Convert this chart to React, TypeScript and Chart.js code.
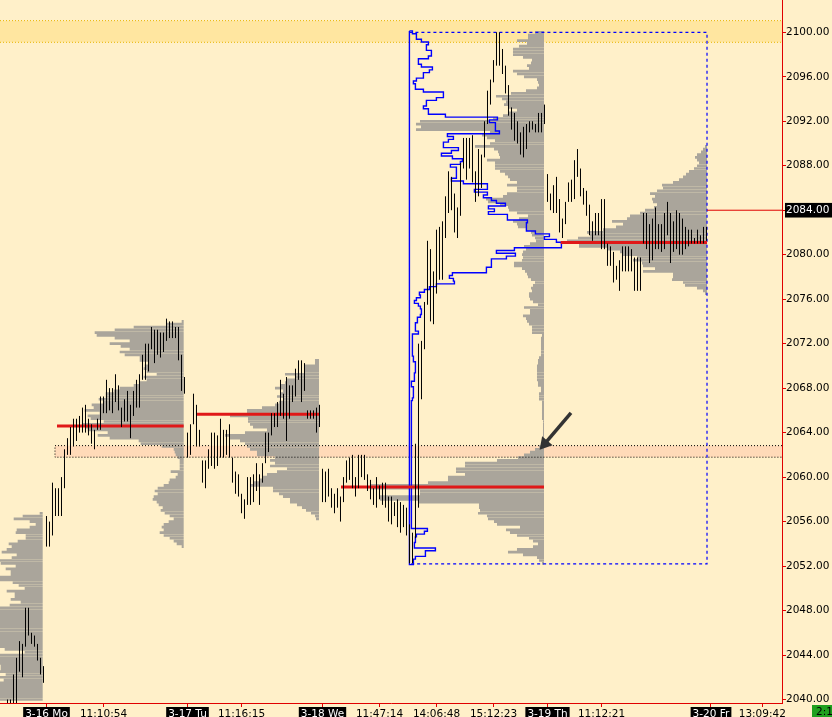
import React, { useEffect, useRef } from 'react';
import { Chart, registerables, LineController } from 'chart.js';

// line controller that does not ask the layout for extra edge padding
class FlushLineController extends LineController {
  getMaxOverflow() {
    return 0;
  }
}
(FlushLineController as any).id = 'flushLine';
(FlushLineController as any).defaults = (LineController as any).defaults;
(FlushLineController as any).overrides = (LineController as any).overrides;

Chart.register(...registerables, FlushLineController);

// ---------------- data ----------------
// price bars: one bar per slot, starting at FIRST_SLOT
const FIRST_SLOT = 2;
const BAR_HIGHS = [
  2040.0, 2040.0, 2042.25, 2043.75, 2045.25, 2045.0, 2048.25, 2048.25, 2046.0, 2045.75,
  2045.0, 2043.75, 2043.0, 2056.5, 2056.0, 2059.5, 2059.0, 2059.0, 2060.0, 2062.5,
  2063.5, 2064.5, 2065.25, 2065.25, 2065.5, 2066.25, 2066.5, 2065.25, 2064.75, 2064.25,
  2065.25, 2067.25, 2067.25, 2068.75, 2068.0, 2068.0, 2069.25, 2068.25, 2066.25, 2067.0,
  2067.75, 2066.5, 2067.75, 2068.75, 2069.25, 2071.0, 2072.0, 2072.0, 2073.5, 2073.25,
  2073.25, 2073.0, 2073.0, 2074.25, 2074.0, 2074.0, 2073.5, 2073.5, 2071.0, 2069.0,
  2064.0, 2064.75, 2067.5, 2066.5, 2064.25, 2061.5, 2061.5, 2062.5, 2064.0, 2064.0,
  2063.75, 2065.25, 2064.25, 2064.25, 2064.75, 2061.75, 2060.5, 2060.25, 2058.5, 2058.0,
  2060.0, 2060.0, 2060.25, 2061.25, 2060.25, 2061.25, 2064.0, 2064.0, 2065.75, 2065.75,
  2066.75, 2068.75, 2067.5, 2069.0, 2068.25, 2068.25, 2069.75, 2070.5, 2070.5, 2070.25,
  2066.0, 2066.0, 2066.0, 2066.25, 2066.5, 2060.75, 2060.5, 2060.75, 2059.0, 2058.5,
  2059.0, 2058.25, 2060.0, 2061.5, 2061.75, 2062.0, 2060.0, 2062.0, 2062.0, 2062.0,
  2060.25, 2059.75, 2059.0, 2060.0, 2059.25, 2059.5, 2059.5, 2058.25, 2058.25, 2057.75,
  2058.0, 2057.75, 2057.5, 2057.25, 2055.75, 2055.0, 2063.0, 2072.0, 2072.25, 2075.75,
  2081.25, 2080.5, 2078.5, 2082.25, 2082.5, 2083.0, 2085.25, 2087.5, 2087.0, 2085.5,
  2084.25, 2088.25, 2090.5, 2090.5, 2090.5, 2090.75, 2087.5, 2089.5, 2089.0, 2092.0,
  2094.75, 2095.75, 2097.5, 2100.0, 2100.0, 2098.5, 2097.0, 2095.25, 2093.25, 2092.75,
  2092.0, 2091.0, 2091.5, 2091.75, 2092.0, 2092.0, 2091.75, 2092.75, 2092.75, 2093.5,
  2087.25, 2085.5, 2086.25, 2087.0, 2085.0, 2083.25, 2084.75, 2086.5, 2086.75, 2088.5,
  2089.5, 2087.75, 2086.0, 2085.75, 2084.5, 2083.0, 2083.75, 2083.75, 2085.0, 2085.0,
  2081.0, 2080.75, 2080.25, 2079.0, 2079.5, 2080.75, 2080.75, 2080.75, 2080.5, 2079.75,
  2079.75, 2079.75, 2083.75, 2083.75, 2082.75, 2083.25, 2084.25, 2082.75, 2082.75, 2083.75,
  2084.75, 2083.75, 2083.0, 2084.0, 2083.75, 2083.25, 2082.5, 2082.25, 2082.25, 2081.5,
  2082.25, 2081.75, 2082.5, 2082.5,
];
const BAR_LOWS = [
  2038.5, 2038.5, 2038.0, 2038.5, 2042.5, 2042.0, 2044.75, 2045.75, 2045.0, 2044.75,
  2043.5, 2042.25, 2041.5, 2053.75, 2053.75, 2054.75, 2056.5, 2056.5, 2056.5, 2059.0,
  2062.0, 2062.0, 2062.75, 2063.25, 2064.0, 2064.0, 2064.0, 2063.75, 2063.0, 2062.5,
  2064.25, 2064.25, 2065.75, 2065.75, 2066.0, 2065.75, 2066.75, 2066.0, 2064.5, 2065.0,
  2065.0, 2063.5, 2065.5, 2066.25, 2066.25, 2068.75, 2068.75, 2069.5, 2071.5, 2070.25,
  2071.0, 2070.75, 2071.25, 2072.25, 2072.5, 2072.5, 2072.5, 2070.5, 2067.75, 2067.5,
  2061.75, 2062.0, 2064.75, 2062.75, 2062.75, 2059.5, 2059.0, 2060.75, 2061.0, 2060.75,
  2061.0, 2061.75, 2061.75, 2062.0, 2061.75, 2059.5, 2058.5, 2058.25, 2056.75, 2056.25,
  2057.5, 2057.5, 2057.75, 2058.75, 2057.5, 2059.5, 2061.25, 2062.25, 2063.75, 2064.5,
  2064.5, 2065.5, 2065.25, 2063.25, 2065.25, 2066.75, 2067.25, 2068.75, 2066.75, 2067.75,
  2065.25, 2065.25, 2065.25, 2064.0, 2064.5, 2057.75, 2057.75, 2058.25, 2057.25, 2056.75,
  2057.25, 2056.0, 2057.75, 2059.5, 2059.75, 2059.0, 2058.25, 2059.0, 2060.0, 2059.75,
  2058.75, 2058.0, 2057.5, 2057.25, 2058.0, 2057.5, 2057.25, 2056.0, 2055.75, 2056.5,
  2055.5, 2055.0, 2055.5, 2054.75, 2052.25, 2052.25, 2054.5, 2057.25, 2067.0, 2071.5,
  2075.5, 2074.0, 2073.75, 2076.5, 2077.75, 2077.75, 2081.5, 2083.75, 2084.0, 2082.0,
  2081.5, 2083.5, 2087.75, 2086.75, 2087.75, 2086.5, 2084.75, 2085.25, 2086.0, 2088.75,
  2091.75, 2093.5, 2095.5, 2097.0, 2097.0, 2096.25, 2094.5, 2092.5, 2091.25, 2090.25,
  2090.0, 2089.0, 2088.75, 2089.5, 2091.0, 2091.25, 2091.0, 2091.0, 2091.0, 2091.75,
  2084.75, 2084.0, 2083.75, 2083.75, 2082.0, 2081.5, 2082.75, 2084.75, 2084.75, 2085.0,
  2087.0, 2085.25, 2084.5, 2083.5, 2081.75, 2081.25, 2081.75, 2081.75, 2080.5, 2080.5,
  2079.0, 2079.0, 2077.5, 2077.75, 2076.75, 2078.5, 2078.5, 2078.5, 2078.5, 2076.75,
  2076.75, 2076.75, 2081.0, 2080.5, 2079.25, 2079.5, 2080.5, 2080.5, 2080.25, 2080.5,
  2081.75, 2079.25, 2080.25, 2080.5, 2080.0, 2080.0, 2080.5, 2080.75, 2081.0, 2081.0,
  2081.0, 2081.0, 2081.0, 2081.25,
];

// volume profiles (volume per 0.25 price level, from the top level down)
const TICK_SIZE = 0.25;
const VOL_TO_SLOT = 1 / 3;
const PROFILE_TOPS = [2056.75, 2074.0, 2070.5, 2100.0, 2089.75];
const PROFILE_RIGHTS = [13.73, 60.73, 105.83, 180.83, 235.17];
const PROFILE_0 = [
  3, 20, 29, 13, 7, 13, 26, 27, 17, 17, 25, 34, 31, 36, 41, 26, 31, 55, 42, 27,
  37, 32, 32, 55, 55, 30, 24, 18, 36, 28, 28, 32, 22, 33, 55, 55, 55, 55, 55, 55,
  55, 55, 55, 55, 55, 55, 55, 55, 55, 38, 18, 55, 55, 55, 55, 42, 42, 55, 37, 55,
  39, 55, 55, 55, 55, 55, 55, 55,
];
const PROFILE_1 = [
  2, 17, 50, 69, 89, 87, 69, 54, 74, 63, 54, 64, 59, 44, 44, 35, 39, 40, 37, 27,
  40, 37, 44, 50, 64, 70, 78, 78, 85, 80, 92, 90, 99, 84, 96, 93, 80, 101, 98, 96,
  76, 86, 74, 45, 43, 22, 10, 9, 8, 6, 4, 4, 4, 4, 13, 6, 8, 14, 15, 20,
  26, 29, 26, 30, 31, 27, 25, 21, 23, 19, 14, 10, 15, 20, 22, 20, 24, 20, 14, 10,
  7, 2,
];
const PROFILE_2 = [
  4, 4, 14, 14, 14, 34, 24, 33, 34, 39, 44, 36, 39, 42, 36, 40, 44, 57, 72, 72,
  89, 71, 71, 69, 66, 52, 74, 94, 89, 79, 74, 72, 69, 62, 62, 44, 49, 44, 49, 32,
  42, 52, 56, 59, 66, 68, 46, 46, 40, 36, 29, 29, 22, 17, 13, 8, 4, 3,
];
const PROFILE_3 = [
  9, 16, 16, 27, 17, 25, 31, 31, 31, 21, 12, 13, 17, 15, 31, 27, 20, 7, 6, 5,
  7, 18, 33, 48, 42, 38, 40, 36, 27, 36, 41, 51, 124, 128, 123, 128, 54, 62, 57, 49,
  54, 69, 50, 46, 45, 44, 57, 49, 49, 49, 44, 39, 36, 34, 27, 37, 27, 27, 37, 41,
  58, 56, 44, 36, 35, 27, 16, 25, 31, 27, 26, 17, 13, 12, 9, 8, 14, 20, 18, 21,
  22, 21, 22, 30, 30, 22, 19, 17, 16, 13, 9, 11, 13, 12, 15, 15, 14, 11, 6, 20,
  14, 14, 21, 18, 17, 15, 12, 12, 12, 2, 3, 3, 3, 3, 3, 3, 3, 5, 6, 6,
  7, 7, 7, 7, 7, 7, 6, 6, 3, 3, 5, 5, 5, 2, 2, 2, 2, 2, 2, 2,
  1, 1, 1, 1, 1, 1, 2, 2, 2, 5, 9, 14, 20, 26, 47, 79, 79, 88, 88, 79,
  96, 96, 116, 174, 174, 124, 124, 164, 164, 125, 65, 65, 64, 66, 57, 56, 50, 47, 24, 38,
  34, 27, 15, 11, 6, 11, 27, 36, 21, 7, 5, 2,
];
const PROFILE_4 = [
  2, 4, 6, 10, 12, 10, 8, 10, 13, 18, 21, 24, 28, 34, 45, 44, 50, 57, 52, 55,
  54, 50, 53, 62, 67, 77, 80, 95, 84, 91, 104, 120, 117, 129, 140, 128, 128, 100, 87, 84,
  70, 74, 65, 64, 52, 64, 34, 34, 35, 24, 22, 10, 4, 2,
];
const POC_PRICES = [2064.6, 2065.65, 2059.1, 2081.1];
const POC_STARTS = [18.5, 65.07, 113.17, 186.4];
const POC_ENDS = [60.73, 105.83, 180.83, 235.17];

// composite outline profile (drawn rightwards from its base)
const COMPOSITE_TOP = 2100.0;
const COMPOSITE_BASE = 135.97;
const COMPOSITE_VOL = [
  3, 7, 7, 12, 19, 17, 17, 22, 22, 19, 9, 9, 12, 23, 20, 14, 14, 7, 4, 6,
  6, 14, 34, 34, 27, 17, 17, 14, 19, 19, 36, 88, 80, 86, 86, 86, 90, 38, 44, 39,
  34, 34, 49, 42, 32, 43, 53, 51, 41, 47, 47, 47, 47, 42, 54, 78, 78, 65, 78, 74,
  82, 87, 96, 79, 85, 79, 98, 98, 118, 117, 117, 117, 126, 140, 135, 147, 152, 152, 105, 87,
  106, 97, 82, 82, 82, 77, 77, 43, 40, 44, 45, 27, 20, 15, 10, 11, 7, 5, 9, 11,
  12, 12, 11, 8, 8, 6, 6, 6, 9, 3, 3, 3, 3, 3, 3, 3, 3, 4, 4, 6,
  6, 6, 6, 5, 5, 5, 2, 2, 4, 4, 4, 4, 3, 2, 2, 2, 2, 2, 2, 2,
  2, 2, 2, 2, 2, 2, 2, 2, 2, 2, 2, 2, 2, 2, 2, 2, 2, 2, 2, 2,
  2, 2, 2, 2, 2, 2, 2, 2, 2, 2, 2, 2, 2, 2, 2, 2, 2, 2, 2, 18,
  15, 7, 6, 6, 5, 5, 26, 16, 16, 6, 4, 4,
];
const RANGE_BOX_X = [135.97, 235.17];
const RANGE_BOX_Y = [2052.2, 2100.0];

const RESIST_BAND = [2099.1, 2101.05];
const SUPPORT_BAND = [2061.79, 2062.83];
const SUPPORT_BAND_START = 17.83;
const LAST_PRICE = 2084;
const ARROW_FROM = [189.83, 2065.77];
const ARROW_TO = [181.1, 2063.0];

const Y_TICKS = [2040, 2044, 2048, 2052, 2056, 2060, 2064, 2068, 2072, 2076, 2080, 2084, 2088, 2092, 2096, 2100];
const X_TICK_SLOTS = [15, 34, 62, 80, 107, 126, 145, 164, 182, 200, 236.5, 253.6];
const X_TICK_LABELS = ['3-16 Mo', '11:10:54', '3-17 Tu', '11:16:15', '3-18 We', '11:47:14', '14:06:48', '15:12:23', '3-19 Th', '11:12:21', '3-20 Fr', '13:09:42'];

const X_MIN = -0.5;
const X_MAX = 260.1667;
const Y_MIN = 2039.685;
const Y_MAX = 2102.905;

// ---------------- styles ----------------
const BG = '#FFF0C9';
const GREY = '#AAA59B';
const BLUE = '#0000FF';
const POC_RED = '#E01818';
const AXIS_RED = '#E00000';
const FONT = { family: 'DejaVu Sans', size: 10.5 };

const isDateLabel = (i: any) => typeof i === 'number' && /^\d+-\d+ /.test(X_TICK_LABELS[i] || '');

function barPoints() {
  const pts: any[] = [];
  BAR_HIGHS.forEach((h, i) => {
    const x = FIRST_SLOT + i;
    pts.push({ x, y: BAR_LOWS[i] }, { x, y: h }, { x, y: null });
  });
  return pts;
}

function profilePoints(top: number, right: number, vols: number[]) {
  const pts: any[] = [];
  vols.forEach((v, i) => {
    const price = top - i * TICK_SIZE;
    pts.push({ x: right - v * VOL_TO_SLOT, y: price }, { x: right, y: price }, { x: right, y: null });
  });
  return pts;
}

function compositePoints() {
  const half = TICK_SIZE / 2;
  const pts: any[] = [{ x: COMPOSITE_BASE, y: COMPOSITE_TOP + half }];
  COMPOSITE_VOL.forEach((v, i) => {
    pts.push({ x: COMPOSITE_BASE + v * VOL_TO_SLOT, y: COMPOSITE_TOP + half - i * TICK_SIZE });
  });
  pts.push({ x: COMPOSITE_BASE, y: COMPOSITE_TOP + half - COMPOSITE_VOL.length * TICK_SIZE });
  pts.push({ x: COMPOSITE_BASE, y: COMPOSITE_TOP + half });
  return pts;
}

const base = { type: 'flushLine', pointRadius: 0, pointHoverRadius: 0, pointBorderWidth: 0, tension: 0, spanGaps: false, fill: false };

function buildDatasets() {
  const ds: any[] = [];
  // bands
  ds.push({
    ...base, order: 20,
    data: [{ x: X_MIN, y: RESIST_BAND[1] }, { x: X_MAX, y: RESIST_BAND[1] }],
    borderColor: 'rgba(0,0,0,0)', backgroundColor: '#FFE6A0', fill: { value: RESIST_BAND[0] },
  });
  ds.push({
    ...base, order: 19,
    data: [{ x: X_MIN, y: RESIST_BAND[1] }, { x: X_MAX, y: RESIST_BAND[1] }, { x: X_MAX, y: null },
      { x: X_MIN, y: RESIST_BAND[0] }, { x: X_MAX, y: RESIST_BAND[0] }],
    borderColor: '#E8B400', borderWidth: 1, borderDash: [1, 2],
  });
  ds.push({
    ...base, order: 18,
    data: [{ x: SUPPORT_BAND_START, y: SUPPORT_BAND[1] }, { x: X_MAX, y: SUPPORT_BAND[1] }],
    borderColor: 'rgba(0,0,0,0)', backgroundColor: '#FFDAB8', fill: { value: SUPPORT_BAND[0] },
  });
  // profiles
  const profiles = [PROFILE_0, PROFILE_1, PROFILE_2, PROFILE_3, PROFILE_4];
  profiles.forEach((vols, k) => {
    ds.push({
      ...base, order: 15,
      data: profilePoints(PROFILE_TOPS[k], PROFILE_RIGHTS[k], vols),
      borderColor: GREY, borderWidth: 2.7, borderCapStyle: 'butt',
    });
  });
  ds.push({
    ...base, order: 12,
    data: [{ x: X_MAX, y: SUPPORT_BAND[1] }, { x: SUPPORT_BAND_START, y: SUPPORT_BAND[1] },
      { x: SUPPORT_BAND_START, y: SUPPORT_BAND[0] }, { x: X_MAX, y: SUPPORT_BAND[0] }],
    borderColor: '#000', borderWidth: 1, borderDash: [1, 2],
  });
  // range box + composite outline
  ds.push({
    ...base, order: 11,
    data: [{ x: RANGE_BOX_X[0], y: RANGE_BOX_Y[1] }, { x: RANGE_BOX_X[1], y: RANGE_BOX_Y[1] },
      { x: RANGE_BOX_X[1], y: RANGE_BOX_Y[0] }, { x: RANGE_BOX_X[0], y: RANGE_BOX_Y[0] }],
    borderColor: BLUE, borderWidth: 1.2, borderDash: [3, 3],
  });
  ds.push({
    ...base, order: 10,
    data: compositePoints(), stepped: 'after',
    borderColor: BLUE, borderWidth: 1.4,
  });
  // POC lines
  POC_PRICES.forEach((p, k) => {
    ds.push({
      ...base, order: 8,
      data: [{ x: POC_STARTS[k], y: p }, { x: POC_ENDS[k], y: p }],
      borderColor: POC_RED, borderWidth: 3, borderCapStyle: 'butt',
    });
  });
  // price bars
  ds.push({
    ...base, order: 5,
    data: barPoints(), borderColor: '#000', borderWidth: 1, borderCapStyle: 'butt',
  });
  // last price line
  ds.push({
    ...base, order: 4,
    data: [{ x: RANGE_BOX_X[1], y: LAST_PRICE }, { x: X_MAX, y: LAST_PRICE }],
    borderColor: AXIS_RED, borderWidth: 1,
  });
  // arrow
  ds.push({
    ...base, order: 2,
    data: [{ x: ARROW_FROM[0], y: ARROW_FROM[1] }, { x: ARROW_TO[0], y: ARROW_TO[1] }],
    borderColor: '#333', borderWidth: 3.5, borderCapStyle: 'butt',
  });
  ds.push({
    ...base, order: 1, showLine: false,
    data: [{ x: ARROW_TO[0], y: ARROW_TO[1] }],
    pointRadius: 8, pointHoverRadius: 8, pointStyle: 'triangle',
    pointBackgroundColor: '#333', pointBorderColor: '#333', pointBorderWidth: 0,
    pointRotation: (c: any) => {
      const xs = c.chart.scales.x;
      const ys = c.chart.scales.y;
      if (!xs || !ys) return 0;
      const dx = xs.getPixelForValue(ARROW_TO[0]) - xs.getPixelForValue(ARROW_FROM[0]);
      const dy = ys.getPixelForValue(ARROW_TO[1]) - ys.getPixelForValue(ARROW_FROM[1]);
      return (Math.atan2(dx, -dy) * 180) / Math.PI;
    },
  });
  return ds;
}

const bgPlugin = {
  id: 'bgFill',
  beforeDraw(chart: any) {
    const { ctx, width, height } = chart;
    ctx.save();
    ctx.fillStyle = BG;
    ctx.fillRect(0, 0, width, height);
    ctx.restore();
  },
};

const cornerPlugin = {
  id: 'cornerTag',
  afterDraw(chart: any) {
    const { ctx, chartArea } = chart;
    const x = chartArea.right + 30;
    const y = chartArea.bottom + 2;
    ctx.save();
    ctx.fillStyle = '#1FA01F';
    ctx.fillRect(x, y, 24, 14);
    ctx.fillStyle = '#000';
    ctx.font = '10.5px "DejaVu Sans"';
    ctx.textBaseline = 'top';
    ctx.fillText('2:1', x + 4, y + 2);
    ctx.restore();
  },
};

export default function App() {
  const ref = useRef<HTMLCanvasElement | null>(null);
  useEffect(() => {
    document.body.style.margin = '0';
    const canvas = ref.current;
    if (!canvas) return;
    const chart = new Chart(canvas, {
      type: 'line',
      data: { datasets: buildDatasets() },
      plugins: [bgPlugin, cornerPlugin],
      options: {
        animation: false,
        responsive: false,
        devicePixelRatio: 1,
        events: [],
        layout: { padding: 0 },
        plugins: { legend: { display: false }, tooltip: { enabled: false } },
        scales: {
          x: {
            type: 'linear', position: 'bottom', min: X_MIN, max: X_MAX,
            grid: { display: true, drawOnChartArea: false, drawTicks: true, tickLength: 4, color: AXIS_RED },
            border: { display: true, color: AXIS_RED, width: 1 },
            afterBuildTicks: (s: any) => { s.ticks = X_TICK_SLOTS.map((v) => ({ value: v })); },
            afterFit: (s: any) => { s.height = 14; s.paddingLeft = 0; s.paddingRight = 0; s.paddingTop = 0; s.paddingBottom = 0; },
            ticks: {
              autoSkip: false, maxRotation: 0, minRotation: 0, padding: 1, font: FONT,
              color: (c: any) => (isDateLabel(c.index) ? '#FFFFFF' : '#000000'),
              showLabelBackdrop: true,
              backdropColor: (c: any) => (isDateLabel(c.index) ? '#000000' : 'rgba(0,0,0,0)'),
              backdropPadding: { top: 1, bottom: 4, left: 2, right: 2 },
              callback: (_v: any, i: number) => X_TICK_LABELS[i],
            },
          },
          y: {
            type: 'linear', position: 'right', min: Y_MIN, max: Y_MAX,
            grid: { display: true, drawOnChartArea: false, drawTicks: true, tickLength: 4, color: AXIS_RED },
            border: { display: true, color: AXIS_RED, width: 1 },
            afterBuildTicks: (s: any) => { s.ticks = Y_TICKS.map((v) => ({ value: v })); },
            afterFit: (s: any) => { s.width = 50; s.paddingTop = 0; s.paddingBottom = 0; s.paddingLeft = 0; s.paddingRight = 0; },
            ticks: {
              padding: 0, font: FONT,
              color: (c: any) => (c.tick && c.tick.value === LAST_PRICE ? '#FFFFFF' : '#000000'),
              showLabelBackdrop: true,
              backdropColor: (c: any) => (c.tick && c.tick.value === LAST_PRICE ? '#000000' : 'rgba(0,0,0,0)'),
              backdropPadding: { top: 1, bottom: 1, left: 1, right: 6 },
              callback: (v: any) => Number(v).toFixed(2),
            },
          },
        },
      } as any,
    } as any);
    return () => chart.destroy();
  }, []);
  return (
    <div style={{ position: 'absolute', left: 0, top: 0, width: 832, height: 717 }}>
      <canvas ref={ref} width={832} height={717} style={{ display: 'block', width: 832, height: 717 }} />
    </div>
  );
}
